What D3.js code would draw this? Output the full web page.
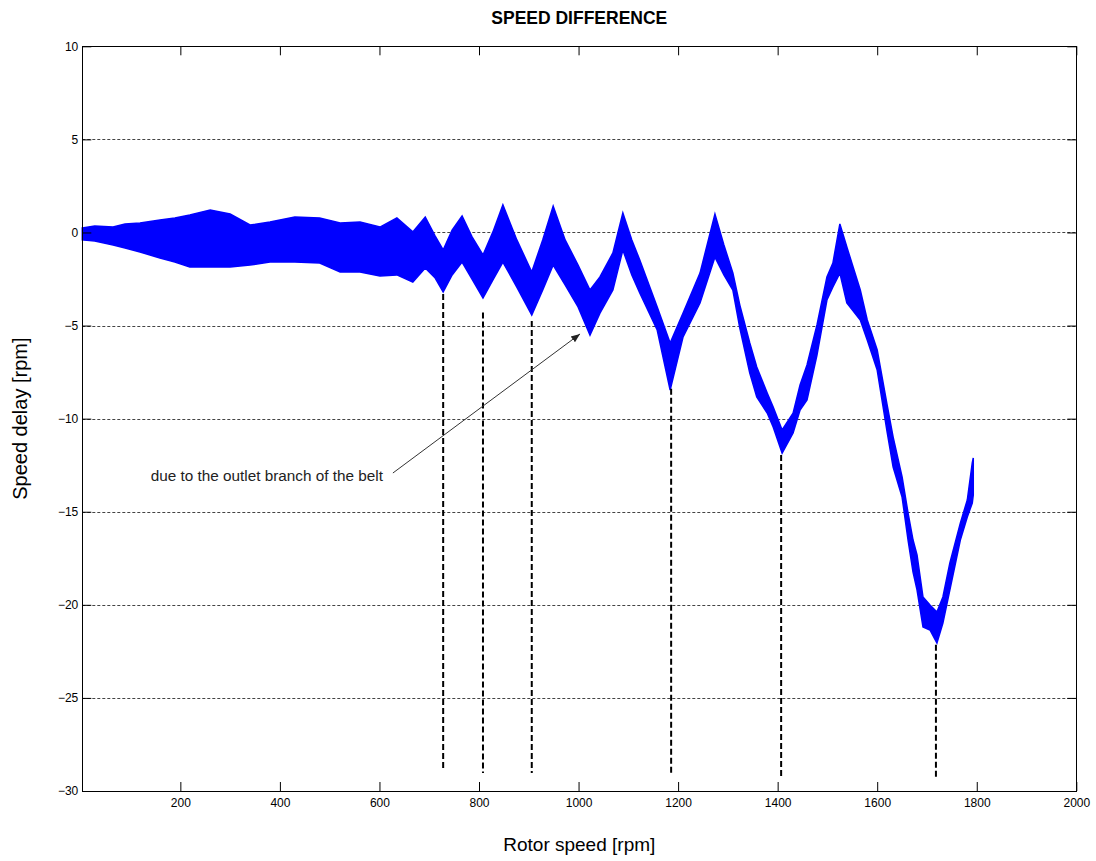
<!DOCTYPE html>
<html>
<head>
<meta charset="utf-8">
<script src="https://cdn.jsdelivr.net/npm/d3@7"></script>
<style>
  html, body { margin: 0; padding: 0; background: #fff; }
  svg { display: block; font-family: "Liberation Sans", Arial, Helvetica, sans-serif; }
</style>
</head>
<body>
<svg id="chart" width="1096" height="861"></svg>
<script>
// Rotor speed samples [rpm] at which the band of the speed-delay signal was traced
const rotorSpeed = [3, 28, 65, 89, 119, 159, 189, 219, 260, 300, 340, 380, 430, 480, 521, 561, 601, 635, 667, 692,
  712, 728, 746, 766, 786, 808, 828, 848, 876, 906, 928, 949, 973, 999, 1023, 1043, 1069, 1089, 1107, 1123,
  1158, 1184, 1210, 1244, 1274, 1292, 1310, 1324, 1344, 1358, 1379, 1391, 1409, 1431, 1445, 1459, 1479, 1499,
  1511, 1525, 1539, 1566, 1580, 1600, 1620, 1632, 1650, 1662, 1672, 1680, 1692, 1706, 1720, 1732, 1746, 1767,
  1781, 1791, 1793];

// Upper edge of the oscillating speed delay [rpm]
const delayMax = [0.24, 0.35, 0.29, 0.46, 0.51, 0.67, 0.78, 0.94, 1.21, 0.99, 0.40, 0.56, 0.83, 0.78, 0.51, 0.56,
  0.29, 0.78, 0.03, 0.83, -0.19, -0.94, 0.13, 0.89, -0.24, -1.21, 0.03, 1.48, -0.40, -2.12, -0.40, 1.42, -0.40,
  -1.75, -3.09, -2.39, -1.10, 1.05, -0.40, -1.48, -4.00, -5.94, -4.33, -2.18, 0.99, -0.67, -2.18, -3.90, -5.94,
  -7.23, -8.62, -9.37, -10.61, -9.70, -8.19, -7.12, -4.97, -2.39, -1.64, 0.46, -0.78, -3.09, -4.70, -6.31,
  -9.27, -10.99, -13.13, -15.07, -16.52, -17.32, -19.58, -20.01, -20.39, -19.58, -17.75, -15.61, -14.37,
  -12.38, -12.11];

// Lower edge of the oscillating speed delay [rpm]
const delayMin = [-0.40, -0.46, -0.67, -0.83, -1.05, -1.37, -1.59, -1.85, -1.85, -1.85, -1.75, -1.59, -1.59, -1.64,
  -2.12, -2.12, -2.34, -2.28, -2.66, -1.91, -2.45, -3.20, -2.28, -1.59, -2.50, -3.52, -2.55, -1.59, -2.93, -4.43,
  -3.09, -1.75, -2.82, -4.00, -5.51, -4.33, -3.09, -0.94, -2.28, -3.25, -5.24, -8.46, -5.61, -3.79, -1.32,
  -2.28, -3.09, -5.13, -7.55, -8.84, -9.70, -10.45, -11.85, -10.77, -9.54, -9.00, -6.58, -3.63, -2.93, -2.18,
  -3.79, -4.70, -5.78, -7.39, -10.72, -12.60, -14.21, -16.52, -18.24, -19.20, -21.19, -21.35, -22.05, -20.98,
  -19.20, -16.52, -15.28, -14.53, -14.10];

// Vertical markers at the local minima caused by the belt
const markerSpeed = [728, 808, 906, 1186, 1407, 1718];
const markerTop = [-3.3, -4.3, -4.75, -8.4, -11.95, -22.15];
const markerBottom = [-28.87, -29.03, -29.03, -29.14, -29.19, -29.3];

// Axis ticks
const xTicks = [200, 400, 600, 800, 1000, 1200, 1400, 1600, 1800, 2000];
const yTicks = [-30, -25, -20, -15, -10, -5, 0, 5, 10];
const gridLevels = [-25, -20, -15, -10, -5, 0, 5];

// Annotation: text and arrow (start / end in data units)
const noteText = "due to the outlet branch of the belt";
const arrowFrom = [627, -12.92];
const arrowTo = [1003, -5.45];

const svg = d3.select("#chart");
const margin = { left: 82.3, right: 1096 - 1076.3, top: 46.3, bottom: 861 - 791 };
const W = 1096, H = 861;

const x = d3.scaleLinear().domain([3, 2000]).range([margin.left, W - margin.right]);
const y = d3.scaleLinear().domain([-30, 10]).range([H - margin.bottom, margin.top]);

svg.append("rect").attr("width", W).attr("height", H).attr("fill", "#fff");

// Horizontal grid
svg.append("g").selectAll("line").data(gridLevels).join("line")
  .attr("x1", x(3)).attr("x2", x(2000))
  .attr("y1", d => Math.round(y(d)) + 0.5).attr("y2", d => Math.round(y(d)) + 0.5)
  .attr("stroke", "#444").attr("stroke-width", 1).attr("stroke-dasharray", "3,2");

// Speed delay band
const band = rotorSpeed.map((s, i) => ({ s, hi: delayMax[i], lo: delayMin[i] }));
const area = d3.area()
  .x(d => x(d.s))
  .y0(d => y(d.lo))
  .y1(d => y(d.hi));
svg.append("path").datum(band)
  .attr("d", area)
  .attr("fill", "#0000ff")
  .attr("stroke", "#0000ff")
  .attr("stroke-width", 1.5)
  .attr("stroke-linejoin", "miter");

// Marker lines
svg.append("g").selectAll("line").data(markerSpeed).join("line")
  .attr("x1", d => x(d)).attr("x2", d => x(d))
  .attr("y1", (d, i) => y(markerTop[i])).attr("y2", (d, i) => y(markerBottom[i]))
  .attr("stroke", "#000").attr("stroke-width", 2).attr("stroke-dasharray", "6,3");

// Axes: ticks pointing inward on all four sides
const tickLen = 9;
const xAxisB = d3.axisBottom(x).tickValues(xTicks).tickSize(-tickLen).tickPadding(7).tickFormat(d3.format("d"));
const xAxisT = d3.axisTop(x).tickValues(xTicks).tickSize(-tickLen).tickFormat("");
const yAxisL = d3.axisLeft(y).tickValues(yTicks).tickSize(-tickLen).tickPadding(4).tickFormat(d3.format("d"));
const yAxisR = d3.axisRight(y).tickValues(yTicks).tickSize(-tickLen).tickFormat("");

function style(g) {
  g.select(".domain").remove();
  g.selectAll(".tick line").attr("stroke", "#000");
  g.selectAll(".tick text").attr("fill", "#000").attr("font-size", 12)
    .attr("font-family", "'Liberation Sans', Arial, sans-serif");
}
svg.append("g").attr("transform", `translate(0,${y(-30)})`).call(xAxisB).call(style);
svg.append("g").attr("transform", `translate(0,${y(10)})`).call(xAxisT).call(style);
svg.append("g").attr("transform", `translate(${x(3)},0)`).call(yAxisL).call(style);
svg.append("g").attr("transform", `translate(${x(2000)},0)`).call(yAxisR).call(style);

// Plot box
svg.append("rect")
  .attr("x", Math.round(x(3)) + 0.5).attr("y", Math.round(y(10)) + 0.5)
  .attr("width", Math.round(x(2000)) - Math.round(x(3)))
  .attr("height", Math.round(y(-30)) - Math.round(y(10)))
  .attr("fill", "none").attr("stroke", "#000").attr("stroke-width", 1);

// Annotation arrow
svg.append("defs").append("marker")
  .attr("id", "head").attr("viewBox", "0 0 10 10")
  .attr("refX", 10).attr("refY", 5)
  .attr("markerWidth", 9).attr("markerHeight", 9)
  .attr("markerUnits", "userSpaceOnUse")
  .attr("orient", "auto")
  .append("path").attr("d", "M0,1 L10,5 L0,9 Z").attr("fill", "#222");

svg.append("line")
  .attr("x1", x(arrowFrom[0])).attr("y1", y(arrowFrom[1]))
  .attr("x2", x(arrowTo[0])).attr("y2", y(arrowTo[1]))
  .attr("stroke", "#333").attr("stroke-width", 1)
  .attr("marker-end", "url(#head)");

svg.append("text")
  .attr("x", x(arrowFrom[0]) - 10).attr("y", y(arrowFrom[1]) + 8)
  .attr("text-anchor", "end")
  .attr("font-size", 15.3).attr("fill", "#222")
  .text(noteText);

// Titles
svg.append("text")
  .attr("x", (x(3) + x(2000)) / 2).attr("y", 24)
  .attr("text-anchor", "middle").attr("font-weight", "bold").attr("font-size", 17.5)
  .text("SPEED DIFFERENCE");

svg.append("text")
  .attr("x", (x(3) + x(2000)) / 2).attr("y", 851)
  .attr("text-anchor", "middle").attr("font-size", 19)
  .text("Rotor speed [rpm]");

svg.append("text")
  .attr("transform", `translate(27,${(y(10) + y(-30)) / 2}) rotate(-90)`)
  .attr("text-anchor", "middle").attr("font-size", 20)
  .text("Speed delay [rpm]");
</script>
</body>
</html>
